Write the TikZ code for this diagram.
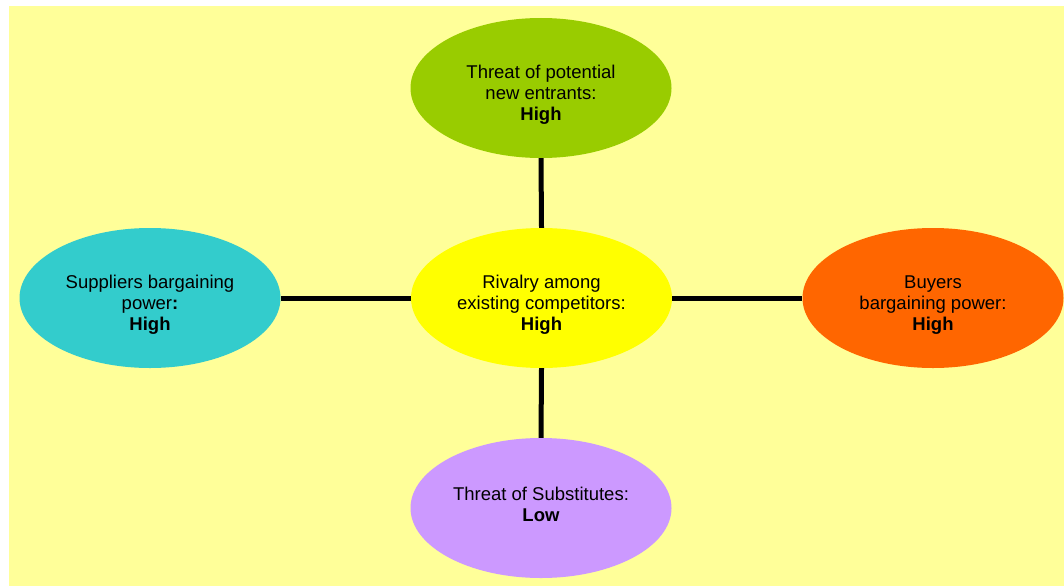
\documentclass[tikz,border=0pt]{standalone}
\usepackage{fontspec}
\setmainfont{Liberation Sans}
\usetikzlibrary{shapes.geometric}
\definecolor{bgyellow}{HTML}{FFFF99}
\definecolor{cyanfill}{HTML}{33CCCC}
\definecolor{yellowfill}{HTML}{FFFF00}
\definecolor{greenfill}{HTML}{99CC00}
\definecolor{orangefill}{HTML}{FF6600}
\definecolor{lilacfill}{HTML}{CC99FF}
\tikzset{
  force/.style={ellipse, draw=none, minimum width=261pt, minimum height=140pt, inner sep=0pt},
  label text/.style={align=center, inner sep=0pt, font=\fontsize{18.5}{21}\selectfont},
  link/.style={line width=5pt, draw=black}
}
\begin{document}
\begin{tikzpicture}[x=1pt,y=-1pt]
\useasboundingbox (0,0) rectangle (1064,586);
\fill[bgyellow] (9,6) rectangle (1064,586);
\node[force, fill=greenfill] (top) at (541,88) {};
\node[force, fill=yellowfill] (mid) at (541.5,298) {};
\node[force, fill=cyanfill] (left) at (150,298) {};
\node[force, fill=orangefill] (right) at (933,298) {};
\node[force, fill=lilacfill] (bot) at (541,508) {};
\node[label text] (topt) at ([yshift=-7pt]top.center) {Threat of potential\\ new entrants:\\ \textbf{High}};
\node[label text] (midt) at ([yshift=-7pt]mid.center) {Rivalry among\\ existing competitors:\\ \textbf{High}};
\node[label text] (leftt) at ([yshift=-7pt]left.center) {Suppliers bargaining\\ power\textbf{:}\\ \textbf{High}};
\node[label text] (rightt) at ([yshift=-7pt]right.center) {Buyers\\ bargaining power:\\ \textbf{High}};
\node[label text] (bott) at ([yshift=3.5pt]bot.center) {Threat of Substitutes:\\ \textbf{Low}};
\draw[link] (top.south) -- (mid.north);
\draw[link] (mid.south) -- (bot.north);
\draw[link] (left.east) -- (mid.west);
\draw[link] (mid.east) -- (right.west);
\end{tikzpicture}
\end{document}
